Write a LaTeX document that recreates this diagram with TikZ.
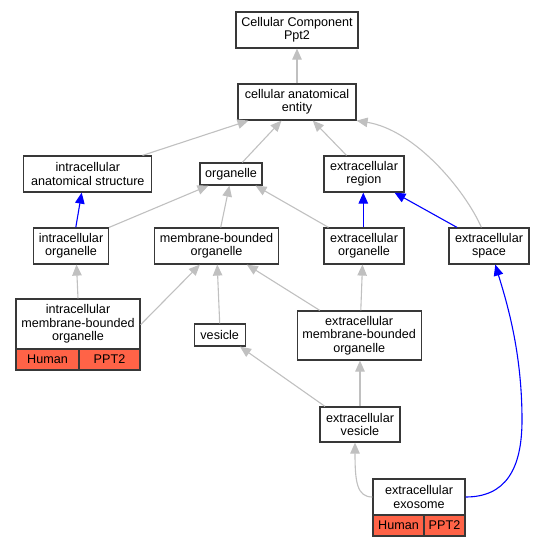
\documentclass[tikz,border=0pt]{standalone}
\usepackage{fontspec}
\setmainfont{Liberation Sans}
\usetikzlibrary{arrows.meta}
\definecolor{edgegray}{HTML}{C0C0C0}
\definecolor{tomato}{HTML}{FF6347}
\definecolor{boxline}{HTML}{383838}
\tikzset{
  box/.style={draw=boxline, line width=1.2pt, fill=white, inner sep=0pt, align=center,
    font=\fontsize{12.6pt}{13.4pt}\selectfont},
  cell/.style={box, fill=tomato},
  gedge/.style={draw=edgegray, line width=1.1pt, -{Triangle[length=11pt,width=9.5pt]}},
  bedge/.style={draw=blue, line width=1.1pt, -{Triangle[length=11pt,width=9.5pt]}},
}
\begin{document}
\begin{tikzpicture}[x=1pt,y=-1pt]
\useasboundingbox (0,0) rectangle (545,547);
% nodes
\node[box, minimum width=122pt, minimum height=36pt] (top) at (297,30) {Cellular Component\\Ppt2};
\node[box, minimum width=118pt, minimum height=36pt] (cae) at (297,102) {cellular anatomical\\entity};
\node[box, minimum width=128pt, minimum height=36pt] (ias) at (87.8,174) {intracellular\\anatomical structure};
\node[box, minimum width=62pt, minimum height=22pt] (org) at (231,174) {organelle};
\node[box, minimum width=80pt, minimum height=36pt] (er) at (364,174) {extracellular\\region};
\node[box, minimum width=75pt, minimum height=36pt] (io) at (71,246) {intracellular\\organelle};
\node[box, minimum width=124pt, minimum height=36pt] (mbo) at (216.5,246) {membrane-bounded\\organelle};
\node[box, minimum width=80pt, minimum height=36pt] (eo) at (364,246) {extracellular\\organelle};
\node[box, minimum width=80pt, minimum height=36pt] (es) at (489,246) {extracellular\\space};
\node[box, minimum width=124pt, minimum height=50pt] (imbo) at (78,324) {intracellular\\membrane-bounded\\organelle};
\node[cell, minimum width=63pt, minimum height=21pt] (imboh) at (47.5,359.5) {Human};
\node[cell, minimum width=61pt, minimum height=21pt] (imbop) at (109.5,359.5) {PPT2};
\node[box, minimum width=51pt, minimum height=22pt] (ves) at (219.7,335) {vesicle};
\node[box, minimum width=124pt, minimum height=49pt] (embo) at (359.2,335.5) {extracellular\\membrane-bounded\\organelle};
\node[box, minimum width=80pt, minimum height=35pt] (ev) at (360,424.5) {extracellular\\vesicle};
\node[box, minimum width=92pt, minimum height=36pt] (exo) at (419,497) {extracellular\\exosome};
\node[cell, minimum width=51pt, minimum height=21pt] (exoh) at (398.5,525.5) {Human};
\node[cell, minimum width=41pt, minimum height=21pt] (exop) at (444.5,525.5) {PPT2};
% edges
\draw[gedge] (cae.north) -- (top.south);
\draw[gedge] ([xshift=54.7pt]ias.north) -- ([xshift=-48.5pt]cae.south);
\draw[gedge] ([xshift=11.3pt]org.north) -- ([xshift=-15.5pt]cae.south);
\draw[gedge] ([xshift=-17.5pt]er.north) -- ([xshift=15.8pt]cae.south);
\draw[gedge] ([xshift=-7.6pt]es.north) .. controls (465,190) and (415,130) .. (cae.south east);
\draw[bedge] ([xshift=4.8pt]io.north) -- ([xshift=-6.1pt]ias.south);
\draw[gedge] (io.north east) -- ([xshift=-22.5pt]org.south);
\draw[gedge] ([xshift=4.2pt]mbo.north) -- ([xshift=-1.6pt]org.south);
\draw[gedge] ([xshift=-35.5pt]eo.north) -- ([xshift=24.5pt]org.south);
\draw[bedge] ([xshift=-0.7pt]eo.north) -- ([xshift=-0.7pt]er.south);
\draw[bedge] ([xshift=-32pt]es.north) -- ([xshift=30.5pt]er.south);
\draw[gedge] (imbo.north) -- ([xshift=5.5pt]io.south);
\draw[gedge] ([yshift=-0.7pt]imbo.east) -- ([xshift=-16.6pt]mbo.south);
\draw[gedge] (ves.north) -- ([xshift=0.7pt]mbo.south);
\draw[gedge] ([xshift=-39.4pt]embo.north) -- ([xshift=30.3pt]mbo.south);
\draw[gedge] ([xshift=1.6pt]embo.north) -- ([xshift=-1.5pt]eo.south);
\draw[gedge] ([xshift=-35pt]ev.north) -- ([xshift=20.3pt]ves.south);
\draw[gedge] (ev.north) -- ([xshift=0.8pt]embo.south);
\draw[gedge] (exo.west) .. controls (357,497) and (355,482) .. ([xshift=-5pt]ev.south);
\draw[bedge] (exo.east) .. controls (505,497) and (522,470) .. (522,420)
  .. controls (522,350) and (506,300) .. ([xshift=6.3pt]es.south);
\end{tikzpicture}
\end{document}
